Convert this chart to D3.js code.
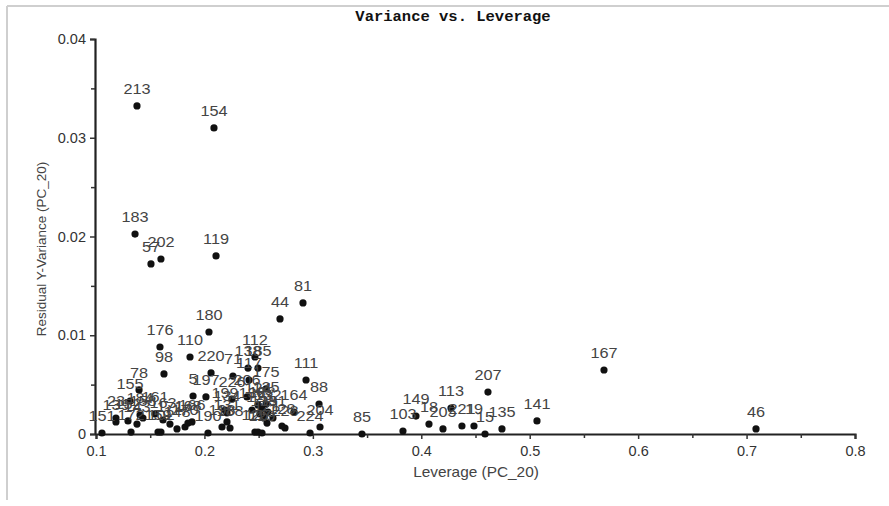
<!DOCTYPE html>
<html>
<head>
<meta charset="utf-8">
<script src="https://cdn.jsdelivr.net/npm/d3@7"></script>
<style>
  html, body { margin: 0; padding: 0; background: #fff; }
  svg { display: block; }
</style>
</head>
<body>
<svg id="chart" width="889" height="506"></svg>
<script>
// ---- Data ----
const title = "Variance vs. Leverage";
const xTitle = "Leverage (PC_20)";
const yTitle = "Residual Y-Variance (PC_20)";

const sampleIds = [
  "213","154","183","202","57","119","81","44","180","176",
  "110","98","220","112","138","185","71","117","175","111",
  "88","164","228","224","204","197","5","226","206","151",
  "172","23","155","78","184","161","102","163","148","166",
  "170","168","190","198","188","134","131","136","126","127",
  "191","121","139","152","143","158","159","171","129","124",
  "122","125","123","132","133","128","199",
  "85","103","149","18","205","113","221","19","15","135",
  "207","141","167","46"
];
const leverage = [
  0.1378,0.2088,0.1360,0.1599,0.1507,0.2107,0.2909,0.2697,0.2042,0.1590,
  0.1867,0.1627,0.2061,0.2466,0.2402,0.2494,0.2263,0.2411,0.2568,0.2937,
  0.3057,0.2826,0.2743,0.2974,0.3066,0.2014,0.1895,0.2254,0.2393,0.1055,
  0.1323,0.1184,0.1314,0.1397,0.1406,0.1544,0.1599,0.1618,0.1747,0.1885,
  0.1821,0.1848,0.2033,0.2162,0.2236,0.2208,0.2208,0.2439,0.2466,0.2494,
  0.2632,0.2577,0.1184,0.1295,0.1378,0.1433,0.1572,0.1682,0.2531,0.2494,
  0.2531,0.2568,0.2512,0.2586,0.2549,0.2715,0.2190,
  0.3453,0.3831,0.3951,0.4071,0.4200,0.4274,0.4375,0.4486,0.4588,0.4744,
  0.4615,0.5067,0.5685,0.7087
];
const variance = [
  0.03322,0.03099,0.02025,0.01772,0.01722,0.01803,0.01327,0.01165,0.01033,0.00881,
  0.00780,0.00608,0.00618,0.00780,0.00668,0.00668,0.00587,0.00547,0.00456,0.00547,
  0.00304,0.00223,0.00061,0.00010,0.00071,0.00375,0.00385,0.00354,0.00375,0.00010,
  0.00020,0.00162,0.00334,0.00446,0.00192,0.00203,0.00020,0.00142,0.00051,0.00122,
  0.00071,0.00111,0.00010,0.00071,0.00061,0.00213,0.00122,0.00243,0.00020,0.00020,
  0.00162,0.00111,0.00122,0.00132,0.00101,0.00162,0.00020,0.00101,0.00010,0.00294,
  0.00253,0.00304,0.00203,0.00223,0.00162,0.00081,0.00243,
  0.00000,0.00030,0.00182,0.00101,0.00051,0.00263,0.00081,0.00081,0.00000,0.00051,
  0.00425,0.00132,0.00648,0.00051
];
const xTicks = [0.1,0.2,0.3,0.4,0.5,0.6,0.7,0.8];
const xMinorTicks = [0.15,0.25,0.35,0.45,0.55,0.65,0.75];
const yTicks = [0,0.01,0.02,0.03,0.04];
const yMinorTicks = [0.005,0.015,0.025,0.035];

// ---- Drawing ----
const svg = d3.select("#chart");
const W = 889, H = 506;

// outer frame (light grey)
svg.append("line").attr("x1", 7).attr("x2", W).attr("y1", 6).attr("y2", 6)
  .attr("stroke", "#cfcfcf").attr("stroke-width", 2);
svg.append("line").attr("x1", 7).attr("x2", 7).attr("y1", 6).attr("y2", 500)
  .attr("stroke", "#cfcfcf").attr("stroke-width", 2);

const x = d3.scaleLinear().domain([0.1, 0.8]).range([96, 855]);
const y = d3.scaleLinear().domain([0, 0.04]).range([434, 39]);

const font = "Liberation Sans, Arial, sans-serif";

// title
svg.append("text")
  .attr("x", 453).attr("y", 21)
  .attr("text-anchor", "middle")
  .attr("font-family", "Liberation Mono, DejaVu Sans Mono, monospace")
  .attr("font-weight", "bold")
  .attr("font-size", 15.5)
  .attr("fill", "#111")
  .text(title);

// x axis
const gx = svg.append("g").attr("transform", `translate(0,${y(0)})`)
  .call(d3.axisBottom(x).tickValues(xTicks).tickSize(5).tickPadding(7)
    .tickFormat(d3.format(".1f")));
const gxm = svg.append("g").attr("transform", `translate(0,${y(0)})`)
  .call(d3.axisBottom(x).tickValues(xMinorTicks).tickSize(4).tickFormat(""));
gxm.select(".domain").remove();

// y axis
const gy = svg.append("g").attr("transform", `translate(${x(0.1) - 1},0)`)
  .call(d3.axisLeft(y).tickValues(yTicks).tickSize(5).tickPadding(4)
    .tickFormat(d => d === 0 ? "0" : d3.format(".2f")(d)));
const gym = svg.append("g").attr("transform", `translate(${x(0.1) - 1},0)`)
  .call(d3.axisLeft(y).tickValues(yMinorTicks).tickSize(4).tickFormat(""));
gym.select(".domain").remove();

[gx, gxm, gy, gym].forEach(g => {
  g.select(".domain").attr("stroke", "#222").attr("stroke-width", 2.2);
  g.selectAll(".tick line").attr("stroke", "#333").attr("stroke-width", 1.5);
  g.selectAll(".tick text").attr("font-family", font).attr("font-size", 14.5)
    .attr("fill", "#333");
});

// axis titles
svg.append("text")
  .attr("transform", "translate(476,477) scale(1.1,1)")
  .attr("text-anchor", "middle")
  .attr("font-family", font).attr("font-size", 14).attr("fill", "#444")
  .text(xTitle);
svg.append("text")
  .attr("transform", `translate(46,249) rotate(-90)`)
  .attr("text-anchor", "middle")
  .attr("font-family", font).attr("font-size", 13.5).attr("fill", "#444")
  .text(yTitle);

// points
const pts = sampleIds.map((id, i) => ({ id, lev: leverage[i], v: variance[i] }));

svg.append("g").selectAll("circle").data(pts).join("circle")
  .attr("cx", d => x(d.lev)).attr("cy", d => y(d.v))
  .attr("r", 3.6).attr("fill", "#111");

svg.append("g").selectAll("text").data(pts).join("text")
  .attr("transform", d => `translate(${x(d.lev)},${y(d.v) - 12}) scale(1.05,1)`)
  .attr("text-anchor", "middle")
  .attr("font-family", font).attr("font-size", 15.5).attr("fill", "#444")
  .text(d => d.id);
</script>
</body>
</html>
